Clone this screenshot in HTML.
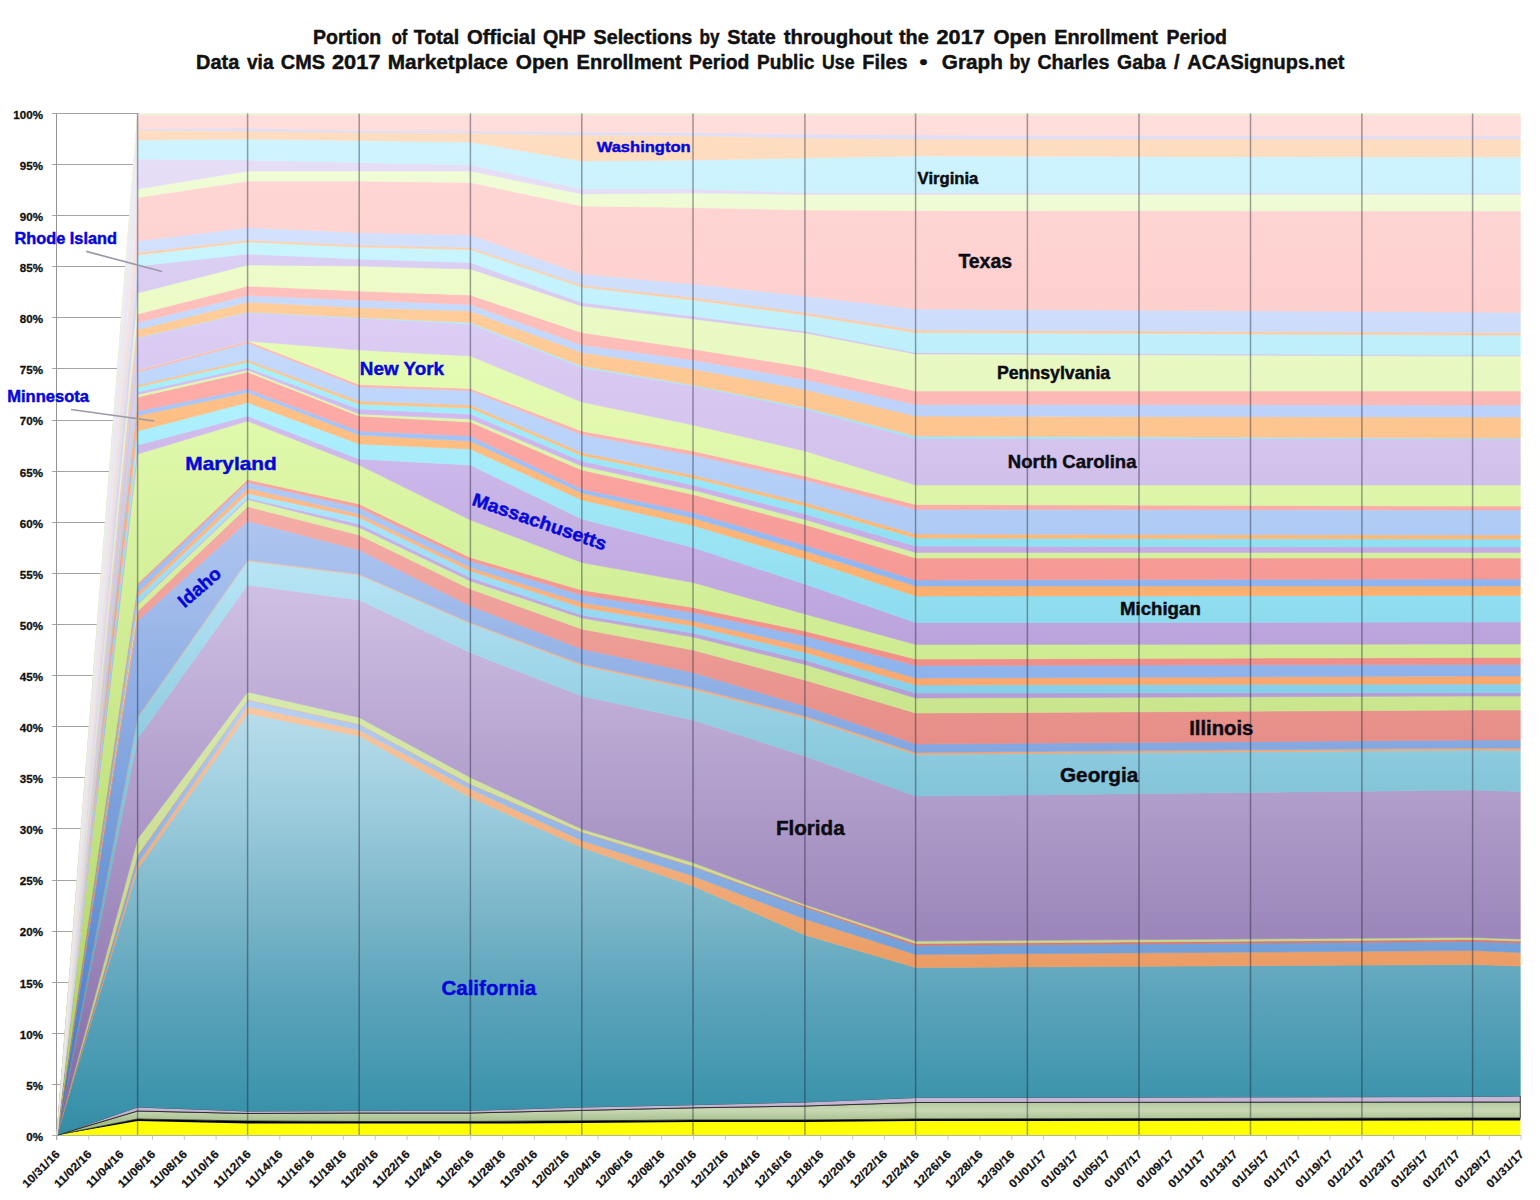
<!DOCTYPE html>
<html><head><meta charset="utf-8"><title>QHP Selections by State</title>
<style>html,body{margin:0;padding:0;background:#fff;}body{width:1540px;height:1200px;overflow:hidden;font-family:"Liberation Sans",sans-serif;}svg{display:block;}text{font-family:"Liberation Sans",sans-serif;font-weight:bold;}</style>
</head><body>
<svg width="1540" height="1200" viewBox="0 0 1540 1200">
<defs>
<linearGradient id="gAL" gradientUnits="userSpaceOnUse" x1="0" y1="0" x2="0" y2="1200">
<stop offset="0.0000" stop-color="#FFFF00"/>
<stop offset="1.0000" stop-color="#FFFF00"/>
</linearGradient>
<linearGradient id="gAK" gradientUnits="userSpaceOnUse" x1="0" y1="0" x2="0" y2="1200">
<stop offset="0.0000" stop-color="#000000"/>
<stop offset="1.0000" stop-color="#000000"/>
</linearGradient>
<linearGradient id="gAZ" gradientUnits="userSpaceOnUse" x1="0" y1="1096" x2="0" y2="1122">
<stop offset="0.0000" stop-color="#A4BE8C"/>
<stop offset="0.5385" stop-color="#C8D8B4"/>
<stop offset="1.0000" stop-color="#A4BE8C"/>
</linearGradient>
<linearGradient id="gAR" gradientUnits="userSpaceOnUse" x1="0" y1="1090" x2="0" y2="1135">
<stop offset="0.0000" stop-color="#C8B8D8"/>
<stop offset="1.0000" stop-color="#C0B0D0"/>
</linearGradient>
<linearGradient id="gCA" gradientUnits="userSpaceOnUse" x1="0" y1="711" x2="0" y2="1135">
<stop offset="0.0000" stop-color="#B8DDEB"/>
<stop offset="0.2099" stop-color="#9FCEDF"/>
<stop offset="0.4458" stop-color="#7FB8CB"/>
<stop offset="0.6816" stop-color="#5AA3BA"/>
<stop offset="0.9175" stop-color="#3C94AC"/>
<stop offset="1.0000" stop-color="#348CA4"/>
</linearGradient>
<linearGradient id="gCO" gradientUnits="userSpaceOnUse" x1="0" y1="706.5" x2="0" y2="1135">
<stop offset="0.0000" stop-color="#F8C7A1"/>
<stop offset="1.0000" stop-color="#E4813D"/>
</linearGradient>
<linearGradient id="gCT" gradientUnits="userSpaceOnUse" x1="0" y1="700" x2="0" y2="1135">
<stop offset="0.0000" stop-color="#B8D0F2"/>
<stop offset="1.0000" stop-color="#407BC5"/>
</linearGradient>
<linearGradient id="gDE" gradientUnits="userSpaceOnUse" x1="0" y1="699.5" x2="0" y2="1135">
<stop offset="0.0000" stop-color="#EEAAA2"/>
<stop offset="1.0000" stop-color="#C65048"/>
</linearGradient>
<linearGradient id="gDC" gradientUnits="userSpaceOnUse" x1="0" y1="694" x2="0" y2="1135">
<stop offset="0.0000" stop-color="#D6EAAC"/>
<stop offset="0.5578" stop-color="#C8D888"/>
<stop offset="1.0000" stop-color="#B0C870"/>
</linearGradient>
<linearGradient id="gFL" gradientUnits="userSpaceOnUse" x1="0" y1="585" x2="0" y2="1135">
<stop offset="0.0000" stop-color="#CFC0E4"/>
<stop offset="1.0000" stop-color="#7F66A3"/>
</linearGradient>
<linearGradient id="gGA" gradientUnits="userSpaceOnUse" x1="0" y1="561" x2="0" y2="1135">
<stop offset="0.0000" stop-color="#B8E5F6"/>
<stop offset="1.0000" stop-color="#3595B0"/>
</linearGradient>
<linearGradient id="gHI" gradientUnits="userSpaceOnUse" x1="0" y1="560" x2="0" y2="1135">
<stop offset="0.0000" stop-color="#F7BF99"/>
<stop offset="1.0000" stop-color="#E37935"/>
</linearGradient>
<linearGradient id="gID" gradientUnits="userSpaceOnUse" x1="0" y1="521" x2="0" y2="1135">
<stop offset="0.0000" stop-color="#AFC5F0"/>
<stop offset="1.0000" stop-color="#3D75C5"/>
</linearGradient>
<linearGradient id="gIL" gradientUnits="userSpaceOnUse" x1="0" y1="506.5" x2="0" y2="1135">
<stop offset="0.0000" stop-color="#F5AEA8"/>
<stop offset="1.0000" stop-color="#CF5852"/>
</linearGradient>
<linearGradient id="gIN" gradientUnits="userSpaceOnUse" x1="0" y1="499.5" x2="0" y2="1135">
<stop offset="0.0000" stop-color="#DDF4A9"/>
<stop offset="1.0000" stop-color="#A4C954"/>
</linearGradient>
<linearGradient id="gIA" gradientUnits="userSpaceOnUse" x1="0" y1="498" x2="0" y2="1135">
<stop offset="0.0000" stop-color="#CCB7E8"/>
<stop offset="1.0000" stop-color="#8062AA"/>
</linearGradient>
<linearGradient id="gKS" gradientUnits="userSpaceOnUse" x1="0" y1="493.5" x2="0" y2="1135">
<stop offset="0.0000" stop-color="#AEE7FE"/>
<stop offset="1.0000" stop-color="#319BBC"/>
</linearGradient>
<linearGradient id="gKY" gradientUnits="userSpaceOnUse" x1="0" y1="488" x2="0" y2="1135">
<stop offset="0.0000" stop-color="#FEBC8C"/>
<stop offset="1.0000" stop-color="#EB792D"/>
</linearGradient>
<linearGradient id="gLA" gradientUnits="userSpaceOnUse" x1="0" y1="482.5" x2="0" y2="1135">
<stop offset="0.0000" stop-color="#AECAF8"/>
<stop offset="1.0000" stop-color="#427DCF"/>
</linearGradient>
<linearGradient id="gME" gradientUnits="userSpaceOnUse" x1="0" y1="479.5" x2="0" y2="1135">
<stop offset="0.0000" stop-color="#FAA69E"/>
<stop offset="1.0000" stop-color="#D6554D"/>
</linearGradient>
<linearGradient id="gMD" gradientUnits="userSpaceOnUse" x1="0" y1="421" x2="0" y2="1135">
<stop offset="0.0000" stop-color="#E0F9AC"/>
<stop offset="1.0000" stop-color="#AAD05B"/>
</linearGradient>
<linearGradient id="gMA" gradientUnits="userSpaceOnUse" x1="0" y1="416" x2="0" y2="1135">
<stop offset="0.0000" stop-color="#D1BDEE"/>
<stop offset="1.0000" stop-color="#896CB3"/>
</linearGradient>
<linearGradient id="gMI" gradientUnits="userSpaceOnUse" x1="0" y1="402.5" x2="0" y2="1135">
<stop offset="0.0000" stop-color="#B0F1FF"/>
<stop offset="1.0000" stop-color="#3AA9C6"/>
</linearGradient>
<linearGradient id="gMN" gradientUnits="userSpaceOnUse" x1="0" y1="392.5" x2="0" y2="1135">
<stop offset="0.0000" stop-color="#FFC188"/>
<stop offset="1.0000" stop-color="#F2822E"/>
</linearGradient>
<linearGradient id="gMS" gradientUnits="userSpaceOnUse" x1="0" y1="389" x2="0" y2="1135">
<stop offset="0.0000" stop-color="#A9C8FA"/>
<stop offset="1.0000" stop-color="#437FD4"/>
</linearGradient>
<linearGradient id="gMO" gradientUnits="userSpaceOnUse" x1="0" y1="372" x2="0" y2="1135">
<stop offset="0.0000" stop-color="#FFAEAA"/>
<stop offset="1.0000" stop-color="#DF615D"/>
</linearGradient>
<linearGradient id="gMT" gradientUnits="userSpaceOnUse" x1="0" y1="370" x2="0" y2="1135">
<stop offset="0.0000" stop-color="#E1F9B2"/>
<stop offset="1.0000" stop-color="#AED366"/>
</linearGradient>
<linearGradient id="gNE" gradientUnits="userSpaceOnUse" x1="0" y1="367.5" x2="0" y2="1135">
<stop offset="0.0000" stop-color="#D5BEF2"/>
<stop offset="1.0000" stop-color="#9172BB"/>
</linearGradient>
<linearGradient id="gNV" gradientUnits="userSpaceOnUse" x1="0" y1="362" x2="0" y2="1135">
<stop offset="0.0000" stop-color="#AAF0FF"/>
<stop offset="1.0000" stop-color="#3BACCA"/>
</linearGradient>
<linearGradient id="gNH" gradientUnits="userSpaceOnUse" x1="0" y1="360" x2="0" y2="1135">
<stop offset="0.0000" stop-color="#FFC68B"/>
<stop offset="1.0000" stop-color="#F28A36"/>
</linearGradient>
<linearGradient id="gNJ" gradientUnits="userSpaceOnUse" x1="0" y1="343" x2="0" y2="1135">
<stop offset="0.0000" stop-color="#C4DAFD"/>
<stop offset="1.0000" stop-color="#6A9BDB"/>
</linearGradient>
<linearGradient id="gNM" gradientUnits="userSpaceOnUse" x1="0" y1="341" x2="0" y2="1135">
<stop offset="0.0000" stop-color="#FFBBB6"/>
<stop offset="1.0000" stop-color="#E77873"/>
</linearGradient>
<linearGradient id="gNY" gradientUnits="userSpaceOnUse" x1="0" y1="341" x2="0" y2="1135">
<stop offset="0.0000" stop-color="#E6FCB5"/>
<stop offset="1.0000" stop-color="#B9DA72"/>
</linearGradient>
<linearGradient id="gNC" gradientUnits="userSpaceOnUse" x1="0" y1="312.5" x2="0" y2="1135">
<stop offset="0.0000" stop-color="#DDCEF5"/>
<stop offset="1.0000" stop-color="#A18BC4"/>
</linearGradient>
<linearGradient id="gND" gradientUnits="userSpaceOnUse" x1="0" y1="312" x2="0" y2="1135">
<stop offset="0.0000" stop-color="#AFEEFF"/>
<stop offset="1.0000" stop-color="#4DB2CC"/>
</linearGradient>
<linearGradient id="gOH" gradientUnits="userSpaceOnUse" x1="0" y1="302" x2="0" y2="1135">
<stop offset="0.0000" stop-color="#FFCD9B"/>
<stop offset="1.0000" stop-color="#F29850"/>
</linearGradient>
<linearGradient id="gOK" gradientUnits="userSpaceOnUse" x1="0" y1="295.5" x2="0" y2="1135">
<stop offset="0.0000" stop-color="#C7DAFE"/>
<stop offset="1.0000" stop-color="#79A2E1"/>
</linearGradient>
<linearGradient id="gOR" gradientUnits="userSpaceOnUse" x1="0" y1="286" x2="0" y2="1135">
<stop offset="0.0000" stop-color="#FFC1BD"/>
<stop offset="1.0000" stop-color="#E88682"/>
</linearGradient>
<linearGradient id="gPA" gradientUnits="userSpaceOnUse" x1="0" y1="265" x2="0" y2="1135">
<stop offset="0.0000" stop-color="#EDFCC9"/>
<stop offset="1.0000" stop-color="#C6DE8F"/>
</linearGradient>
<linearGradient id="gRI" gradientUnits="userSpaceOnUse" x1="0" y1="254" x2="0" y2="1135">
<stop offset="0.0000" stop-color="#DBCFF3"/>
<stop offset="1.0000" stop-color="#A794C9"/>
</linearGradient>
<linearGradient id="gSC" gradientUnits="userSpaceOnUse" x1="0" y1="242" x2="0" y2="1135">
<stop offset="0.0000" stop-color="#C9F5FF"/>
<stop offset="1.0000" stop-color="#74C1D7"/>
</linearGradient>
<linearGradient id="gSD" gradientUnits="userSpaceOnUse" x1="0" y1="240" x2="0" y2="1135">
<stop offset="0.0000" stop-color="#FFD1AC"/>
<stop offset="1.0000" stop-color="#F3A36B"/>
</linearGradient>
<linearGradient id="gTN" gradientUnits="userSpaceOnUse" x1="0" y1="227.5" x2="0" y2="1135">
<stop offset="0.0000" stop-color="#D3E1FD"/>
<stop offset="1.0000" stop-color="#97B7E7"/>
</linearGradient>
<linearGradient id="gTX" gradientUnits="userSpaceOnUse" x1="0" y1="181" x2="0" y2="1135">
<stop offset="0.0000" stop-color="#FFD6D4"/>
<stop offset="1.0000" stop-color="#EDA9A7"/>
</linearGradient>
<linearGradient id="gUT" gradientUnits="userSpaceOnUse" x1="0" y1="171" x2="0" y2="1135">
<stop offset="0.0000" stop-color="#EFFCD6"/>
<stop offset="1.0000" stop-color="#D1E5A9"/>
</linearGradient>
<linearGradient id="gVT" gradientUnits="userSpaceOnUse" x1="0" y1="159" x2="0" y2="1135">
<stop offset="0.0000" stop-color="#E6DEF6"/>
<stop offset="1.0000" stop-color="#BEB1D6"/>
</linearGradient>
<linearGradient id="gVA" gradientUnits="userSpaceOnUse" x1="0" y1="139" x2="0" y2="1135">
<stop offset="0.0000" stop-color="#CFF4FF"/>
<stop offset="1.0000" stop-color="#8ECCDD"/>
</linearGradient>
<linearGradient id="gWA" gradientUnits="userSpaceOnUse" x1="0" y1="130" x2="0" y2="1135">
<stop offset="0.0000" stop-color="#FFDDC1"/>
<stop offset="1.0000" stop-color="#F5BA8F"/>
</linearGradient>
<linearGradient id="gWV" gradientUnits="userSpaceOnUse" x1="0" y1="128" x2="0" y2="1135">
<stop offset="0.0000" stop-color="#E0DFF5"/>
<stop offset="1.0000" stop-color="#B0BDE3"/>
</linearGradient>
<linearGradient id="gWI" gradientUnits="userSpaceOnUse" x1="0" y1="114.8" x2="0" y2="1135">
<stop offset="0.0000" stop-color="#FFDEDB"/>
<stop offset="1.0000" stop-color="#EFBAB7"/>
</linearGradient>
<linearGradient id="gWY" gradientUnits="userSpaceOnUse" x1="0" y1="113.5" x2="0" y2="1135">
<stop offset="0.0000" stop-color="#EAF5D5"/>
<stop offset="1.0000" stop-color="#D2E3B1"/>
</linearGradient>
<linearGradient id="fanw" gradientUnits="userSpaceOnUse" x1="97" y1="624" x2="121" y2="625.9"><stop offset="0" stop-color="#F0EEF3" stop-opacity="0.9"/><stop offset="0.3" stop-color="#F0EEF3" stop-opacity="0.6"/><stop offset="0.7" stop-color="#F0EEF3" stop-opacity="0.1"/><stop offset="1" stop-color="#F0EEF3" stop-opacity="0"/></linearGradient>
</defs>
<rect width="1540" height="1200" fill="#fff"/>
<line x1="52" y1="1135.5" x2="140" y2="1135.5" stroke="#8e8e8e" stroke-width="0.8"/>
<line x1="52" y1="1084.5" x2="140" y2="1084.5" stroke="#8e8e8e" stroke-width="0.8"/>
<line x1="52" y1="1033.5" x2="140" y2="1033.5" stroke="#8e8e8e" stroke-width="0.8"/>
<line x1="52" y1="982.5" x2="140" y2="982.5" stroke="#8e8e8e" stroke-width="0.8"/>
<line x1="52" y1="931.5" x2="140" y2="931.5" stroke="#8e8e8e" stroke-width="0.8"/>
<line x1="52" y1="880.5" x2="140" y2="880.5" stroke="#8e8e8e" stroke-width="0.8"/>
<line x1="52" y1="828.5" x2="140" y2="828.5" stroke="#8e8e8e" stroke-width="0.8"/>
<line x1="52" y1="777.5" x2="140" y2="777.5" stroke="#8e8e8e" stroke-width="0.8"/>
<line x1="52" y1="726.5" x2="140" y2="726.5" stroke="#8e8e8e" stroke-width="0.8"/>
<line x1="52" y1="675.5" x2="140" y2="675.5" stroke="#8e8e8e" stroke-width="0.8"/>
<line x1="52" y1="624.5" x2="140" y2="624.5" stroke="#8e8e8e" stroke-width="0.8"/>
<line x1="52" y1="573.5" x2="140" y2="573.5" stroke="#8e8e8e" stroke-width="0.8"/>
<line x1="52" y1="522.5" x2="140" y2="522.5" stroke="#8e8e8e" stroke-width="0.8"/>
<line x1="52" y1="471.5" x2="140" y2="471.5" stroke="#8e8e8e" stroke-width="0.8"/>
<line x1="52" y1="420.5" x2="140" y2="420.5" stroke="#8e8e8e" stroke-width="0.8"/>
<line x1="52" y1="368.5" x2="140" y2="368.5" stroke="#8e8e8e" stroke-width="0.8"/>
<line x1="52" y1="317.5" x2="140" y2="317.5" stroke="#8e8e8e" stroke-width="0.8"/>
<line x1="52" y1="266.5" x2="140" y2="266.5" stroke="#8e8e8e" stroke-width="0.8"/>
<line x1="52" y1="215.5" x2="140" y2="215.5" stroke="#8e8e8e" stroke-width="0.8"/>
<line x1="52" y1="164.5" x2="140" y2="164.5" stroke="#8e8e8e" stroke-width="0.8"/>
<line x1="52" y1="113.5" x2="140" y2="113.5" stroke="#8e8e8e" stroke-width="0.8"/>
<line x1="56.5" y1="114" x2="56.5" y2="1140" stroke="#959595" stroke-width="1"/>
<line x1="52" y1="1135.5" x2="1521" y2="1135.5" stroke="#b4b4a8" stroke-width="1"/>
<polygon points="57.0,1135.0 137.6,1121.0 247.6,1123.5 359.2,1123.6 470.4,1123.6 581.8,1123.0 693.0,1122.0 804.9,1122.0 915.6,1121.0 1472.6,1120.5 1520.3,1120.5 1520.3,1135.0 1472.6,1135.0 915.6,1135.0 804.9,1135.0 693.0,1135.0 581.8,1135.0 470.4,1135.0 359.2,1135.0 247.6,1135.0 137.6,1135.0" fill="url(#gAL)"/>
<polygon points="57.0,1135.0 137.6,1119.0 247.6,1121.0 359.2,1121.5 470.4,1121.5 581.8,1120.8 693.0,1120.0 804.9,1120.0 915.6,1119.0 1472.6,1118.0 1520.3,1118.0 1520.3,1120.5 1472.6,1120.5 915.6,1121.0 804.9,1122.0 693.0,1122.0 581.8,1123.0 470.4,1123.6 359.2,1123.6 247.6,1123.5 137.6,1121.0" fill="url(#gAK)"/>
<polygon points="57.0,1135.0 137.6,1111.0 247.6,1113.5 359.2,1113.0 470.4,1113.0 581.8,1110.4 693.0,1107.8 804.9,1106.0 915.6,1102.5 1472.6,1102.0 1520.3,1102.0 1520.3,1118.0 1472.6,1118.0 915.6,1119.0 804.9,1120.0 693.0,1120.0 581.8,1120.8 470.4,1121.5 359.2,1121.5 247.6,1121.0 137.6,1119.0" fill="url(#gAZ)" stroke="#1a1a1a" stroke-width="0.8" stroke-linejoin="round"/>
<polygon points="57.0,1135.0 137.6,1107.0 247.6,1111.0 359.2,1110.6 470.4,1110.4 581.8,1107.0 693.0,1104.7 804.9,1102.0 915.6,1097.5 1472.6,1096.5 1520.3,1096.0 1520.3,1102.0 1472.6,1102.0 915.6,1102.5 804.9,1106.0 693.0,1107.8 581.8,1110.4 470.4,1113.0 359.2,1113.0 247.6,1113.5 137.6,1111.0" fill="url(#gAR)" stroke="#1a1a1a" stroke-width="0.8" stroke-linejoin="round"/>
<polygon points="57.0,1135.0 137.6,869.0 247.6,713.5 359.2,736.0 470.4,797.5 581.8,847.5 693.0,886.0 804.9,935.0 915.6,967.5 1472.6,964.5 1520.3,966.0 1520.3,1096.0 1472.6,1096.5 915.6,1097.5 804.9,1102.0 693.0,1104.7 581.8,1107.0 470.4,1110.4 359.2,1110.6 247.6,1111.0 137.6,1107.0" fill="url(#gCA)" stroke="url(#gCA)" stroke-width="0.6"/>
<polygon points="57.0,1135.0 137.6,863.5 247.6,706.5 359.2,730.0 470.4,789.0 581.8,840.5 693.0,876.0 804.9,919.0 915.6,954.5 1472.6,950.5 1520.3,952.5 1520.3,966.0 1472.6,964.5 915.6,967.5 804.9,935.0 693.0,886.0 581.8,847.5 470.4,797.5 359.2,736.0 247.6,713.5 137.6,869.0" fill="url(#gCO)" stroke="url(#gCO)" stroke-width="0.6"/>
<polygon points="57.0,1135.0 137.6,856.0 247.6,700.0 359.2,724.5 470.4,784.5 581.8,832.5 693.0,866.5 804.9,907.5 915.6,945.5 1472.6,941.5 1520.3,943.0 1520.3,952.5 1472.6,950.5 915.6,954.5 804.9,919.0 693.0,876.0 581.8,840.5 470.4,789.0 359.2,730.0 247.6,706.5 137.6,863.5" fill="url(#gCT)" stroke="url(#gCT)" stroke-width="0.6"/>
<polygon points="57.0,1135.0 137.6,855.0 247.6,699.5 359.2,724.0 470.4,784.0 581.8,832.0 693.0,866.0 804.9,906.0 915.6,943.5 1472.6,939.5 1520.3,941.0 1520.3,943.0 1472.6,941.5 915.6,945.5 804.9,907.5 693.0,866.5 581.8,832.5 470.4,784.5 359.2,724.5 247.6,700.0 137.6,856.0" fill="url(#gDE)" stroke="url(#gDE)" stroke-width="0.6"/>
<polygon points="57.0,1135.0 137.6,839.0 247.6,692.0 359.2,717.5 470.4,777.5 581.8,829.0 693.0,862.5 804.9,904.5 915.6,941.0 1472.6,937.5 1520.3,939.0 1520.3,941.0 1472.6,939.5 915.6,943.5 804.9,906.0 693.0,866.0 581.8,832.0 470.4,784.0 359.2,724.0 247.6,699.5 137.6,855.0" fill="url(#gDC)" stroke="url(#gDC)" stroke-width="0.6"/>
<polygon points="57.0,1135.0 137.6,738.5 247.6,585.0 359.2,600.0 470.4,652.5 581.8,696.0 693.0,720.0 804.9,756.0 915.6,796.0 1472.6,790.0 1520.3,791.5 1520.3,939.0 1472.6,937.5 915.6,941.0 804.9,904.5 693.0,862.5 581.8,829.0 470.4,777.5 359.2,717.5 247.6,692.0 137.6,839.0" fill="url(#gFL)" stroke="url(#gFL)" stroke-width="0.6"/>
<polygon points="57.0,1135.0 137.6,718.0 247.6,561.0 359.2,575.0 470.4,623.5 581.8,665.5 693.0,689.5 804.9,718.0 915.6,754.5 1472.6,750.0 1520.3,750.5 1520.3,791.5 1472.6,790.0 915.6,796.0 804.9,756.0 693.0,720.0 581.8,696.0 470.4,652.5 359.2,600.0 247.6,585.0 137.6,738.5" fill="url(#gGA)" stroke="url(#gGA)" stroke-width="0.6"/>
<polygon points="57.0,1135.0 137.6,717.0 247.6,560.0 359.2,574.0 470.4,622.5 581.8,664.0 693.0,687.5 804.9,716.0 915.6,752.5 1472.6,748.0 1520.3,748.0 1520.3,750.5 1472.6,750.0 915.6,754.5 804.9,718.0 693.0,689.5 581.8,665.5 470.4,623.5 359.2,575.0 247.6,561.0 137.6,718.0" fill="url(#gHI)" stroke="url(#gHI)" stroke-width="0.6"/>
<polygon points="57.0,1135.0 137.6,620.7 247.6,521.0 359.2,550.0 470.4,606.0 581.8,649.0 693.0,672.5 804.9,706.0 915.6,744.0 1472.6,740.0 1520.3,740.0 1520.3,748.0 1472.6,748.0 915.6,752.5 804.9,716.0 693.0,687.5 581.8,664.0 470.4,622.5 359.2,574.0 247.6,560.0 137.6,717.0" fill="url(#gID)" stroke="url(#gID)" stroke-width="0.6"/>
<polygon points="57.0,1135.0 137.6,611.3 247.6,506.5 359.2,535.0 470.4,589.0 581.8,629.0 693.0,650.0 804.9,680.0 915.6,713.0 1472.6,710.0 1520.3,710.0 1520.3,740.0 1472.6,740.0 915.6,744.0 804.9,706.0 693.0,672.5 581.8,649.0 470.4,606.0 359.2,550.0 247.6,521.0 137.6,620.7" fill="url(#gIL)" stroke="url(#gIL)" stroke-width="0.6"/>
<polygon points="57.0,1135.0 137.6,604.3 247.6,499.5 359.2,527.5 470.4,581.0 581.8,618.0 693.0,637.0 804.9,664.5 915.6,698.0 1472.6,696.0 1520.3,696.0 1520.3,710.0 1472.6,710.0 915.6,713.0 804.9,680.0 693.0,650.0 581.8,629.0 470.4,589.0 359.2,535.0 247.6,506.5 137.6,611.3" fill="url(#gIN)" stroke="url(#gIN)" stroke-width="0.6"/>
<polygon points="57.0,1135.0 137.6,603.3 247.6,498.0 359.2,524.0 470.4,577.5 581.8,615.0 693.0,633.0 804.9,660.0 915.6,693.0 1472.6,692.5 1520.3,692.5 1520.3,696.0 1472.6,696.0 915.6,698.0 804.9,664.5 693.0,637.0 581.8,618.0 470.4,581.0 359.2,527.5 247.6,499.5 137.6,604.3" fill="url(#gIA)" stroke="url(#gIA)" stroke-width="0.6"/>
<polygon points="57.0,1135.0 137.6,596.7 247.6,493.5 359.2,517.5 470.4,571.0 581.8,607.5 693.0,626.0 804.9,652.5 915.6,685.0 1472.6,684.0 1520.3,684.0 1520.3,692.5 1472.6,692.5 915.6,693.0 804.9,660.0 693.0,633.0 581.8,615.0 470.4,577.5 359.2,524.0 247.6,498.0 137.6,603.3" fill="url(#gKS)" stroke="url(#gKS)" stroke-width="0.6"/>
<polygon points="57.0,1135.0 137.6,592.7 247.6,488.0 359.2,514.0 470.4,567.5 581.8,602.5 693.0,621.0 804.9,646.0 915.6,678.0 1472.6,676.0 1520.3,676.0 1520.3,684.0 1472.6,684.0 915.6,685.0 804.9,652.5 693.0,626.0 581.8,607.5 470.4,571.0 359.2,517.5 247.6,493.5 137.6,596.7" fill="url(#gKY)" stroke="url(#gKY)" stroke-width="0.6"/>
<polygon points="57.0,1135.0 137.6,585.5 247.6,482.5 359.2,507.5 470.4,561.0 581.8,595.0 693.0,612.5 804.9,636.0 915.6,665.5 1472.6,664.5 1520.3,664.5 1520.3,676.0 1472.6,676.0 915.6,678.0 804.9,646.0 693.0,621.0 581.8,602.5 470.4,567.5 359.2,514.0 247.6,488.0 137.6,592.7" fill="url(#gLA)" stroke="url(#gLA)" stroke-width="0.6"/>
<polygon points="57.0,1135.0 137.6,583.5 247.6,479.5 359.2,504.0 470.4,557.5 581.8,590.0 693.0,607.5 804.9,631.0 915.6,659.0 1472.6,657.5 1520.3,657.5 1520.3,664.5 1472.6,664.5 915.6,665.5 804.9,636.0 693.0,612.5 581.8,595.0 470.4,561.0 359.2,507.5 247.6,482.5 137.6,585.5" fill="url(#gME)" stroke="url(#gME)" stroke-width="0.6"/>
<polygon points="57.0,1135.0 137.6,454.0 247.6,421.0 359.2,465.0 470.4,520.0 581.8,562.5 693.0,582.5 804.9,614.0 915.6,644.5 1472.6,644.0 1520.3,644.0 1520.3,657.5 1472.6,657.5 915.6,659.0 804.9,631.0 693.0,607.5 581.8,590.0 470.4,557.5 359.2,504.0 247.6,479.5 137.6,583.5" fill="url(#gMD)" stroke="url(#gMD)" stroke-width="0.6"/>
<polygon points="57.0,1135.0 137.6,445.0 247.6,416.0 359.2,459.0 470.4,465.0 581.8,519.0 693.0,547.5 804.9,584.0 915.6,622.5 1472.6,622.0 1520.3,622.0 1520.3,644.0 1472.6,644.0 915.6,644.5 804.9,614.0 693.0,582.5 581.8,562.5 470.4,520.0 359.2,465.0 247.6,421.0 137.6,454.0" fill="url(#gMA)" stroke="url(#gMA)" stroke-width="0.6"/>
<polygon points="57.0,1135.0 137.6,431.0 247.6,402.5 359.2,444.0 470.4,449.0 581.8,500.0 693.0,525.5 804.9,559.0 915.6,596.0 1472.6,595.5 1520.3,595.5 1520.3,622.0 1472.6,622.0 915.6,622.5 804.9,584.0 693.0,547.5 581.8,519.0 470.4,465.0 359.2,459.0 247.6,416.0 137.6,445.0" fill="url(#gMI)" stroke="url(#gMI)" stroke-width="0.6"/>
<polygon points="57.0,1135.0 137.6,415.5 247.6,392.5 359.2,435.0 470.4,441.0 581.8,493.0 693.0,518.0 804.9,551.0 915.6,586.0 1472.6,586.0 1520.3,586.0 1520.3,595.5 1472.6,595.5 915.6,596.0 804.9,559.0 693.0,525.5 581.8,500.0 470.4,449.0 359.2,444.0 247.6,402.5 137.6,431.0" fill="url(#gMN)" stroke="url(#gMN)" stroke-width="0.6"/>
<polygon points="57.0,1135.0 137.6,411.0 247.6,389.0 359.2,431.0 470.4,436.0 581.8,489.0 693.0,512.5 804.9,545.0 915.6,580.0 1472.6,579.0 1520.3,579.0 1520.3,586.0 1472.6,586.0 915.6,586.0 804.9,551.0 693.0,518.0 581.8,493.0 470.4,441.0 359.2,435.0 247.6,392.5 137.6,415.5" fill="url(#gMS)" stroke="url(#gMS)" stroke-width="0.6"/>
<polygon points="57.0,1135.0 137.6,397.0 247.6,372.0 359.2,416.0 470.4,422.0 581.8,470.0 693.0,494.5 804.9,524.5 915.6,558.0 1472.6,558.0 1520.3,558.0 1520.3,579.0 1472.6,579.0 915.6,580.0 804.9,545.0 693.0,512.5 581.8,489.0 470.4,436.0 359.2,431.0 247.6,389.0 137.6,411.0" fill="url(#gMO)" stroke="url(#gMO)" stroke-width="0.6"/>
<polygon points="57.0,1135.0 137.6,394.5 247.6,370.0 359.2,414.0 470.4,419.0 581.8,466.0 693.0,490.0 804.9,519.5 915.6,552.5 1472.6,552.5 1520.3,552.5 1520.3,558.0 1472.6,558.0 915.6,558.0 804.9,524.5 693.0,494.5 581.8,470.0 470.4,422.0 359.2,416.0 247.6,372.0 137.6,397.0" fill="url(#gMT)" stroke="url(#gMT)" stroke-width="0.6"/>
<polygon points="57.0,1135.0 137.6,392.0 247.6,367.5 359.2,409.0 470.4,414.0 581.8,461.0 693.0,485.0 804.9,514.0 915.6,546.0 1472.6,547.0 1520.3,547.0 1520.3,552.5 1472.6,552.5 915.6,552.5 804.9,519.5 693.0,490.0 581.8,466.0 470.4,419.0 359.2,414.0 247.6,370.0 137.6,394.5" fill="url(#gNE)" stroke="url(#gNE)" stroke-width="0.6"/>
<polygon points="57.0,1135.0 137.6,387.0 247.6,362.0 359.2,404.0 470.4,408.0 581.8,455.5 693.0,478.0 804.9,506.0 915.6,538.0 1472.6,539.0 1520.3,539.0 1520.3,547.0 1472.6,547.0 915.6,546.0 804.9,514.0 693.0,485.0 581.8,461.0 470.4,414.0 359.2,409.0 247.6,367.5 137.6,392.0" fill="url(#gNV)" stroke="url(#gNV)" stroke-width="0.6"/>
<polygon points="57.0,1135.0 137.6,385.0 247.6,360.0 359.2,401.0 470.4,405.0 581.8,452.5 693.0,475.0 804.9,502.5 915.6,534.0 1472.6,535.0 1520.3,535.0 1520.3,539.0 1472.6,539.0 915.6,538.0 804.9,506.0 693.0,478.0 581.8,455.5 470.4,408.0 359.2,404.0 247.6,362.0 137.6,387.0" fill="url(#gNH)" stroke="url(#gNH)" stroke-width="0.6"/>
<polygon points="57.0,1135.0 137.6,372.0 247.6,343.0 359.2,387.0 470.4,390.5 581.8,434.5 693.0,455.0 804.9,480.0 915.6,509.5 1472.6,510.0 1520.3,510.0 1520.3,535.0 1472.6,535.0 915.6,534.0 804.9,502.5 693.0,475.0 581.8,452.5 470.4,405.0 359.2,401.0 247.6,360.0 137.6,385.0" fill="url(#gNJ)" stroke="url(#gNJ)" stroke-width="0.6"/>
<polygon points="57.0,1135.0 137.6,370.0 247.6,341.0 359.2,384.5 470.4,388.5 581.8,431.0 693.0,451.0 804.9,476.0 915.6,504.5 1472.6,506.0 1520.3,506.0 1520.3,510.0 1472.6,510.0 915.6,509.5 804.9,480.0 693.0,455.0 581.8,434.5 470.4,390.5 359.2,387.0 247.6,343.0 137.6,372.0" fill="url(#gNM)" stroke="url(#gNM)" stroke-width="0.6"/>
<polygon points="57.0,1135.0 137.6,370.0 247.6,341.0 359.2,350.0 470.4,356.0 581.8,402.0 693.0,425.0 804.9,451.0 915.6,485.0 1472.6,485.0 1520.3,485.0 1520.3,506.0 1472.6,506.0 915.6,504.5 804.9,476.0 693.0,451.0 581.8,431.0 470.4,388.5 359.2,384.5 247.6,341.0 137.6,370.0" fill="url(#gNY)" stroke="url(#gNY)" stroke-width="0.6"/>
<polygon points="57.0,1135.0 137.6,338.0 247.6,312.5 359.2,318.0 470.4,324.0 581.8,367.5 693.0,386.0 804.9,409.0 915.6,438.5 1472.6,439.0 1520.3,439.0 1520.3,485.0 1472.6,485.0 915.6,485.0 804.9,451.0 693.0,425.0 581.8,402.0 470.4,356.0 359.2,350.0 247.6,341.0 137.6,370.0" fill="url(#gNC)" stroke="url(#gNC)" stroke-width="0.6"/>
<polygon points="57.0,1135.0 137.6,337.5 247.6,312.0 359.2,317.5 470.4,322.5 581.8,366.0 693.0,385.0 804.9,407.5 915.6,436.0 1472.6,438.0 1520.3,438.0 1520.3,439.0 1472.6,439.0 915.6,438.5 804.9,409.0 693.0,386.0 581.8,367.5 470.4,324.0 359.2,318.0 247.6,312.5 137.6,338.0" fill="url(#gND)" stroke="url(#gND)" stroke-width="0.6"/>
<polygon points="57.0,1135.0 137.6,329.5 247.6,302.0 359.2,307.5 470.4,311.0 581.8,352.5 693.0,369.0 804.9,389.5 915.6,416.0 1472.6,417.0 1520.3,417.0 1520.3,438.0 1472.6,438.0 915.6,436.0 804.9,407.5 693.0,385.0 581.8,366.0 470.4,322.5 359.2,317.5 247.6,312.0 137.6,337.5" fill="url(#gOH)" stroke="url(#gOH)" stroke-width="0.6"/>
<polygon points="57.0,1135.0 137.6,322.5 247.6,295.5 359.2,300.0 470.4,304.5 581.8,345.0 693.0,360.0 804.9,379.5 915.6,404.5 1472.6,405.0 1520.3,405.0 1520.3,417.0 1472.6,417.0 915.6,416.0 804.9,389.5 693.0,369.0 581.8,352.5 470.4,311.0 359.2,307.5 247.6,302.0 137.6,329.5" fill="url(#gOK)" stroke="url(#gOK)" stroke-width="0.6"/>
<polygon points="57.0,1135.0 137.6,314.0 247.6,286.0 359.2,291.0 470.4,295.0 581.8,332.5 693.0,349.0 804.9,367.0 915.6,391.0 1472.6,391.0 1520.3,391.0 1520.3,405.0 1472.6,405.0 915.6,404.5 804.9,379.5 693.0,360.0 581.8,345.0 470.4,304.5 359.2,300.0 247.6,295.5 137.6,322.5" fill="url(#gOR)" stroke="url(#gOR)" stroke-width="0.6"/>
<polygon points="57.0,1135.0 137.6,293.0 247.6,265.0 359.2,266.0 470.4,269.0 581.8,306.0 693.0,319.0 804.9,333.0 915.6,354.0 1472.6,356.0 1520.3,356.0 1520.3,391.0 1472.6,391.0 915.6,391.0 804.9,367.0 693.0,349.0 581.8,332.5 470.4,295.0 359.2,291.0 247.6,286.0 137.6,314.0" fill="url(#gPA)" stroke="url(#gPA)" stroke-width="0.6"/>
<polygon points="57.0,1135.0 137.6,266.0 247.6,254.0 359.2,259.0 470.4,262.5 581.8,302.5 693.0,316.0 804.9,331.0 915.6,352.5 1472.6,355.0 1520.3,355.0 1520.3,356.0 1472.6,356.0 915.6,354.0 804.9,333.0 693.0,319.0 581.8,306.0 470.4,269.0 359.2,266.0 247.6,265.0 137.6,293.0" fill="url(#gRI)" stroke="url(#gRI)" stroke-width="0.6"/>
<polygon points="57.0,1135.0 137.6,255.0 247.6,242.0 359.2,247.0 470.4,249.5 581.8,287.0 693.0,300.0 804.9,315.0 915.6,332.5 1472.6,335.0 1520.3,335.0 1520.3,355.0 1472.6,355.0 915.6,352.5 804.9,331.0 693.0,316.0 581.8,302.5 470.4,262.5 359.2,259.0 247.6,254.0 137.6,266.0" fill="url(#gSC)" stroke="url(#gSC)" stroke-width="0.6"/>
<polygon points="57.0,1135.0 137.6,252.5 247.6,240.0 359.2,245.0 470.4,247.5 581.8,285.0 693.0,297.5 804.9,312.5 915.6,330.0 1472.6,332.5 1520.3,332.5 1520.3,335.0 1472.6,335.0 915.6,332.5 804.9,315.0 693.0,300.0 581.8,287.0 470.4,249.5 359.2,247.0 247.6,242.0 137.6,255.0" fill="url(#gSD)" stroke="url(#gSD)" stroke-width="0.6"/>
<polygon points="57.0,1135.0 137.6,241.0 247.6,227.5 359.2,232.5 470.4,235.0 581.8,274.0 693.0,284.0 804.9,296.0 915.6,309.0 1472.6,312.0 1520.3,312.5 1520.3,332.5 1472.6,332.5 915.6,330.0 804.9,312.5 693.0,297.5 581.8,285.0 470.4,247.5 359.2,245.0 247.6,240.0 137.6,252.5" fill="url(#gTN)" stroke="url(#gTN)" stroke-width="0.6"/>
<polygon points="57.0,1135.0 137.6,197.5 247.6,181.0 359.2,181.0 470.4,182.5 581.8,206.0 693.0,207.5 804.9,210.0 915.6,210.5 1472.6,211.0 1520.3,211.0 1520.3,312.5 1472.6,312.0 915.6,309.0 804.9,296.0 693.0,284.0 581.8,274.0 470.4,235.0 359.2,232.5 247.6,227.5 137.6,241.0" fill="url(#gTX)" stroke="url(#gTX)" stroke-width="0.6"/>
<polygon points="57.0,1135.0 137.6,189.0 247.6,171.0 359.2,171.0 470.4,171.0 581.8,194.0 693.0,193.0 804.9,194.5 915.6,194.5 1472.6,194.5 1520.3,194.5 1520.3,211.0 1472.6,211.0 915.6,210.5 804.9,210.0 693.0,207.5 581.8,206.0 470.4,182.5 359.2,181.0 247.6,181.0 137.6,197.5" fill="url(#gUT)" stroke="url(#gUT)" stroke-width="0.6"/>
<polygon points="57.0,1135.0 137.6,159.0 247.6,160.0 359.2,162.5 470.4,165.0 581.8,189.0 693.0,189.0 804.9,192.5 915.6,192.5 1472.6,193.0 1520.3,193.0 1520.3,194.5 1472.6,194.5 915.6,194.5 804.9,194.5 693.0,193.0 581.8,194.0 470.4,171.0 359.2,171.0 247.6,171.0 137.6,189.0" fill="url(#gVT)" stroke="url(#gVT)" stroke-width="0.6"/>
<polygon points="57.0,1135.0 137.6,140.0 247.6,139.0 359.2,140.5 470.4,142.0 581.8,161.0 693.0,160.0 804.9,158.0 915.6,156.0 1472.6,157.0 1520.3,157.0 1520.3,193.0 1472.6,193.0 915.6,192.5 804.9,192.5 693.0,189.0 581.8,189.0 470.4,165.0 359.2,162.5 247.6,160.0 137.6,159.0" fill="url(#gVA)" stroke="url(#gVA)" stroke-width="0.6"/>
<polygon points="57.0,1135.0 137.6,130.0 247.6,131.0 359.2,132.5 470.4,133.0 581.8,135.0 693.0,135.5 804.9,138.0 915.6,139.0 1472.6,139.0 1520.3,139.0 1520.3,157.0 1472.6,157.0 915.6,156.0 804.9,158.0 693.0,160.0 581.8,161.0 470.4,142.0 359.2,140.5 247.6,139.0 137.6,140.0" fill="url(#gWA)" stroke="url(#gWA)" stroke-width="0.6"/>
<polygon points="57.0,1135.0 137.6,128.5 247.6,128.0 359.2,130.5 470.4,131.0 581.8,132.0 693.0,132.5 804.9,134.0 915.6,135.0 1472.6,136.0 1520.3,136.0 1520.3,139.0 1472.6,139.0 915.6,139.0 804.9,138.0 693.0,135.5 581.8,135.0 470.4,133.0 359.2,132.5 247.6,131.0 137.6,130.0" fill="url(#gWV)" stroke="url(#gWV)" stroke-width="0.6"/>
<polygon points="57.0,1135.0 137.6,114.8 247.6,114.8 359.2,114.8 470.4,114.8 581.8,114.8 693.0,114.8 804.9,114.8 915.6,114.8 1472.6,114.8 1520.3,114.8 1520.3,136.0 1472.6,136.0 915.6,135.0 804.9,134.0 693.0,132.5 581.8,132.0 470.4,131.0 359.2,130.5 247.6,128.0 137.6,128.5" fill="url(#gWI)" stroke="url(#gWI)" stroke-width="0.6"/>
<polygon points="57.0,1135.0 137.6,113.5 247.6,113.5 359.2,113.5 470.4,113.5 581.8,113.5 693.0,113.5 804.9,113.5 915.6,113.5 1472.6,113.5 1520.3,113.5 1520.3,114.8 1472.6,114.8 915.6,114.8 804.9,114.8 693.0,114.8 581.8,114.8 470.4,114.8 359.2,114.8 247.6,114.8 137.6,114.8" fill="url(#gWY)" stroke="url(#gWY)" stroke-width="0.6"/>
<polygon points="57,1135 137.6,113.5 137.6,470" fill="url(#fanw)"/>
<line x1="137.60" y1="113.5" x2="137.60" y2="1135" stroke="#14182c" stroke-opacity="0.4" stroke-width="1.5"/>
<line x1="247.60" y1="113.5" x2="247.60" y2="1135" stroke="#14182c" stroke-opacity="0.4" stroke-width="1.5"/>
<line x1="359.20" y1="113.5" x2="359.20" y2="1135" stroke="#14182c" stroke-opacity="0.4" stroke-width="1.5"/>
<line x1="470.40" y1="113.5" x2="470.40" y2="1135" stroke="#14182c" stroke-opacity="0.4" stroke-width="1.5"/>
<line x1="581.80" y1="113.5" x2="581.80" y2="1135" stroke="#14182c" stroke-opacity="0.4" stroke-width="1.5"/>
<line x1="693.00" y1="113.5" x2="693.00" y2="1135" stroke="#14182c" stroke-opacity="0.4" stroke-width="1.5"/>
<line x1="804.90" y1="113.5" x2="804.90" y2="1135" stroke="#14182c" stroke-opacity="0.4" stroke-width="1.5"/>
<line x1="915.60" y1="113.5" x2="915.60" y2="1135" stroke="#14182c" stroke-opacity="0.4" stroke-width="1.5"/>
<line x1="1027.40" y1="113.5" x2="1027.40" y2="1135" stroke="#14182c" stroke-opacity="0.4" stroke-width="1.5"/>
<line x1="1139.00" y1="113.5" x2="1139.00" y2="1135" stroke="#14182c" stroke-opacity="0.4" stroke-width="1.5"/>
<line x1="1250.50" y1="113.5" x2="1250.50" y2="1135" stroke="#14182c" stroke-opacity="0.4" stroke-width="1.5"/>
<line x1="1361.90" y1="113.5" x2="1361.90" y2="1135" stroke="#14182c" stroke-opacity="0.4" stroke-width="1.5"/>
<line x1="1472.60" y1="113.5" x2="1472.60" y2="1135" stroke="#14182c" stroke-opacity="0.4" stroke-width="1.5"/>
<line x1="57.0" y1="1135" x2="57.0" y2="1140" stroke="#c4c4c4" stroke-width="0.9"/>
<line x1="88.8" y1="1135" x2="88.8" y2="1140" stroke="#c4c4c4" stroke-width="0.9"/>
<line x1="120.7" y1="1135" x2="120.7" y2="1140" stroke="#c4c4c4" stroke-width="0.9"/>
<line x1="152.5" y1="1135" x2="152.5" y2="1140" stroke="#c4c4c4" stroke-width="0.9"/>
<line x1="184.3" y1="1135" x2="184.3" y2="1140" stroke="#c4c4c4" stroke-width="0.9"/>
<line x1="216.1" y1="1135" x2="216.1" y2="1140" stroke="#c4c4c4" stroke-width="0.9"/>
<line x1="248.0" y1="1135" x2="248.0" y2="1140" stroke="#c4c4c4" stroke-width="0.9"/>
<line x1="279.8" y1="1135" x2="279.8" y2="1140" stroke="#c4c4c4" stroke-width="0.9"/>
<line x1="311.6" y1="1135" x2="311.6" y2="1140" stroke="#c4c4c4" stroke-width="0.9"/>
<line x1="343.4" y1="1135" x2="343.4" y2="1140" stroke="#c4c4c4" stroke-width="0.9"/>
<line x1="375.3" y1="1135" x2="375.3" y2="1140" stroke="#c4c4c4" stroke-width="0.9"/>
<line x1="407.1" y1="1135" x2="407.1" y2="1140" stroke="#c4c4c4" stroke-width="0.9"/>
<line x1="438.9" y1="1135" x2="438.9" y2="1140" stroke="#c4c4c4" stroke-width="0.9"/>
<line x1="470.7" y1="1135" x2="470.7" y2="1140" stroke="#c4c4c4" stroke-width="0.9"/>
<line x1="502.6" y1="1135" x2="502.6" y2="1140" stroke="#c4c4c4" stroke-width="0.9"/>
<line x1="534.4" y1="1135" x2="534.4" y2="1140" stroke="#c4c4c4" stroke-width="0.9"/>
<line x1="566.2" y1="1135" x2="566.2" y2="1140" stroke="#c4c4c4" stroke-width="0.9"/>
<line x1="598.0" y1="1135" x2="598.0" y2="1140" stroke="#c4c4c4" stroke-width="0.9"/>
<line x1="629.9" y1="1135" x2="629.9" y2="1140" stroke="#c4c4c4" stroke-width="0.9"/>
<line x1="661.7" y1="1135" x2="661.7" y2="1140" stroke="#c4c4c4" stroke-width="0.9"/>
<line x1="693.5" y1="1135" x2="693.5" y2="1140" stroke="#c4c4c4" stroke-width="0.9"/>
<line x1="725.3" y1="1135" x2="725.3" y2="1140" stroke="#c4c4c4" stroke-width="0.9"/>
<line x1="757.2" y1="1135" x2="757.2" y2="1140" stroke="#c4c4c4" stroke-width="0.9"/>
<line x1="789.0" y1="1135" x2="789.0" y2="1140" stroke="#c4c4c4" stroke-width="0.9"/>
<line x1="820.8" y1="1135" x2="820.8" y2="1140" stroke="#c4c4c4" stroke-width="0.9"/>
<line x1="852.7" y1="1135" x2="852.7" y2="1140" stroke="#c4c4c4" stroke-width="0.9"/>
<line x1="884.5" y1="1135" x2="884.5" y2="1140" stroke="#c4c4c4" stroke-width="0.9"/>
<line x1="916.3" y1="1135" x2="916.3" y2="1140" stroke="#c4c4c4" stroke-width="0.9"/>
<line x1="948.1" y1="1135" x2="948.1" y2="1140" stroke="#c4c4c4" stroke-width="0.9"/>
<line x1="980.0" y1="1135" x2="980.0" y2="1140" stroke="#c4c4c4" stroke-width="0.9"/>
<line x1="1011.8" y1="1135" x2="1011.8" y2="1140" stroke="#c4c4c4" stroke-width="0.9"/>
<line x1="1043.6" y1="1135" x2="1043.6" y2="1140" stroke="#c4c4c4" stroke-width="0.9"/>
<line x1="1075.4" y1="1135" x2="1075.4" y2="1140" stroke="#c4c4c4" stroke-width="0.9"/>
<line x1="1107.3" y1="1135" x2="1107.3" y2="1140" stroke="#c4c4c4" stroke-width="0.9"/>
<line x1="1139.1" y1="1135" x2="1139.1" y2="1140" stroke="#c4c4c4" stroke-width="0.9"/>
<line x1="1170.9" y1="1135" x2="1170.9" y2="1140" stroke="#c4c4c4" stroke-width="0.9"/>
<line x1="1202.7" y1="1135" x2="1202.7" y2="1140" stroke="#c4c4c4" stroke-width="0.9"/>
<line x1="1234.6" y1="1135" x2="1234.6" y2="1140" stroke="#c4c4c4" stroke-width="0.9"/>
<line x1="1266.4" y1="1135" x2="1266.4" y2="1140" stroke="#c4c4c4" stroke-width="0.9"/>
<line x1="1298.2" y1="1135" x2="1298.2" y2="1140" stroke="#c4c4c4" stroke-width="0.9"/>
<line x1="1330.0" y1="1135" x2="1330.0" y2="1140" stroke="#c4c4c4" stroke-width="0.9"/>
<line x1="1361.9" y1="1135" x2="1361.9" y2="1140" stroke="#c4c4c4" stroke-width="0.9"/>
<line x1="1393.7" y1="1135" x2="1393.7" y2="1140" stroke="#c4c4c4" stroke-width="0.9"/>
<line x1="1425.5" y1="1135" x2="1425.5" y2="1140" stroke="#c4c4c4" stroke-width="0.9"/>
<line x1="1457.3" y1="1135" x2="1457.3" y2="1140" stroke="#c4c4c4" stroke-width="0.9"/>
<line x1="1489.2" y1="1135" x2="1489.2" y2="1140" stroke="#c4c4c4" stroke-width="0.9"/>
<line x1="1521.0" y1="1135" x2="1521.0" y2="1140" stroke="#c4c4c4" stroke-width="0.9"/>
<text x="43" y="1140.8" font-size="11.6" text-anchor="end" fill="#111" stroke="#111" stroke-width="0.3">0%</text>
<text x="43" y="1089.7" font-size="11.6" text-anchor="end" fill="#111" stroke="#111" stroke-width="0.3">5%</text>
<text x="43" y="1038.6" font-size="11.6" text-anchor="end" fill="#111" stroke="#111" stroke-width="0.3">10%</text>
<text x="43" y="987.5" font-size="11.6" text-anchor="end" fill="#111" stroke="#111" stroke-width="0.3">15%</text>
<text x="43" y="936.4" font-size="11.6" text-anchor="end" fill="#111" stroke="#111" stroke-width="0.3">20%</text>
<text x="43" y="885.3" font-size="11.6" text-anchor="end" fill="#111" stroke="#111" stroke-width="0.3">25%</text>
<text x="43" y="834.2" font-size="11.6" text-anchor="end" fill="#111" stroke="#111" stroke-width="0.3">30%</text>
<text x="43" y="783.1" font-size="11.6" text-anchor="end" fill="#111" stroke="#111" stroke-width="0.3">35%</text>
<text x="43" y="732.0" font-size="11.6" text-anchor="end" fill="#111" stroke="#111" stroke-width="0.3">40%</text>
<text x="43" y="680.9" font-size="11.6" text-anchor="end" fill="#111" stroke="#111" stroke-width="0.3">45%</text>
<text x="43" y="629.8" font-size="11.6" text-anchor="end" fill="#111" stroke="#111" stroke-width="0.3">50%</text>
<text x="43" y="578.7" font-size="11.6" text-anchor="end" fill="#111" stroke="#111" stroke-width="0.3">55%</text>
<text x="43" y="527.6" font-size="11.6" text-anchor="end" fill="#111" stroke="#111" stroke-width="0.3">60%</text>
<text x="43" y="476.5" font-size="11.6" text-anchor="end" fill="#111" stroke="#111" stroke-width="0.3">65%</text>
<text x="43" y="425.4" font-size="11.6" text-anchor="end" fill="#111" stroke="#111" stroke-width="0.3">70%</text>
<text x="43" y="374.3" font-size="11.6" text-anchor="end" fill="#111" stroke="#111" stroke-width="0.3">75%</text>
<text x="43" y="323.2" font-size="11.6" text-anchor="end" fill="#111" stroke="#111" stroke-width="0.3">80%</text>
<text x="43" y="272.1" font-size="11.6" text-anchor="end" fill="#111" stroke="#111" stroke-width="0.3">85%</text>
<text x="43" y="221.0" font-size="11.6" text-anchor="end" fill="#111" stroke="#111" stroke-width="0.3">90%</text>
<text x="43" y="169.9" font-size="11.6" text-anchor="end" fill="#111" stroke="#111" stroke-width="0.3">95%</text>
<text x="43" y="118.8" font-size="11.6" text-anchor="end" fill="#111" stroke="#111" stroke-width="0.3">100%</text>
<text transform="translate(60.6,1155.0) rotate(-45)" font-size="11.5" text-anchor="end" fill="#111" stroke="#111" stroke-width="0.2" textLength="47.5" lengthAdjust="spacingAndGlyphs">10/31/16</text>
<text transform="translate(92.4,1155.0) rotate(-45)" font-size="11.5" text-anchor="end" fill="#111" stroke="#111" stroke-width="0.2" textLength="47.5" lengthAdjust="spacingAndGlyphs">11/02/16</text>
<text transform="translate(124.3,1155.0) rotate(-45)" font-size="11.5" text-anchor="end" fill="#111" stroke="#111" stroke-width="0.2" textLength="47.5" lengthAdjust="spacingAndGlyphs">11/04/16</text>
<text transform="translate(156.1,1155.0) rotate(-45)" font-size="11.5" text-anchor="end" fill="#111" stroke="#111" stroke-width="0.2" textLength="47.5" lengthAdjust="spacingAndGlyphs">11/06/16</text>
<text transform="translate(187.9,1155.0) rotate(-45)" font-size="11.5" text-anchor="end" fill="#111" stroke="#111" stroke-width="0.2" textLength="47.5" lengthAdjust="spacingAndGlyphs">11/08/16</text>
<text transform="translate(219.7,1155.0) rotate(-45)" font-size="11.5" text-anchor="end" fill="#111" stroke="#111" stroke-width="0.2" textLength="47.5" lengthAdjust="spacingAndGlyphs">11/10/16</text>
<text transform="translate(251.6,1155.0) rotate(-45)" font-size="11.5" text-anchor="end" fill="#111" stroke="#111" stroke-width="0.2" textLength="47.5" lengthAdjust="spacingAndGlyphs">11/12/16</text>
<text transform="translate(283.4,1155.0) rotate(-45)" font-size="11.5" text-anchor="end" fill="#111" stroke="#111" stroke-width="0.2" textLength="47.5" lengthAdjust="spacingAndGlyphs">11/14/16</text>
<text transform="translate(315.2,1155.0) rotate(-45)" font-size="11.5" text-anchor="end" fill="#111" stroke="#111" stroke-width="0.2" textLength="47.5" lengthAdjust="spacingAndGlyphs">11/16/16</text>
<text transform="translate(347.0,1155.0) rotate(-45)" font-size="11.5" text-anchor="end" fill="#111" stroke="#111" stroke-width="0.2" textLength="47.5" lengthAdjust="spacingAndGlyphs">11/18/16</text>
<text transform="translate(378.9,1155.0) rotate(-45)" font-size="11.5" text-anchor="end" fill="#111" stroke="#111" stroke-width="0.2" textLength="47.5" lengthAdjust="spacingAndGlyphs">11/20/16</text>
<text transform="translate(410.7,1155.0) rotate(-45)" font-size="11.5" text-anchor="end" fill="#111" stroke="#111" stroke-width="0.2" textLength="47.5" lengthAdjust="spacingAndGlyphs">11/22/16</text>
<text transform="translate(442.5,1155.0) rotate(-45)" font-size="11.5" text-anchor="end" fill="#111" stroke="#111" stroke-width="0.2" textLength="47.5" lengthAdjust="spacingAndGlyphs">11/24/16</text>
<text transform="translate(474.3,1155.0) rotate(-45)" font-size="11.5" text-anchor="end" fill="#111" stroke="#111" stroke-width="0.2" textLength="47.5" lengthAdjust="spacingAndGlyphs">11/26/16</text>
<text transform="translate(506.2,1155.0) rotate(-45)" font-size="11.5" text-anchor="end" fill="#111" stroke="#111" stroke-width="0.2" textLength="47.5" lengthAdjust="spacingAndGlyphs">11/28/16</text>
<text transform="translate(538.0,1155.0) rotate(-45)" font-size="11.5" text-anchor="end" fill="#111" stroke="#111" stroke-width="0.2" textLength="47.5" lengthAdjust="spacingAndGlyphs">11/30/16</text>
<text transform="translate(569.8,1155.0) rotate(-45)" font-size="11.5" text-anchor="end" fill="#111" stroke="#111" stroke-width="0.2" textLength="47.5" lengthAdjust="spacingAndGlyphs">12/02/16</text>
<text transform="translate(601.6,1155.0) rotate(-45)" font-size="11.5" text-anchor="end" fill="#111" stroke="#111" stroke-width="0.2" textLength="47.5" lengthAdjust="spacingAndGlyphs">12/04/16</text>
<text transform="translate(633.5,1155.0) rotate(-45)" font-size="11.5" text-anchor="end" fill="#111" stroke="#111" stroke-width="0.2" textLength="47.5" lengthAdjust="spacingAndGlyphs">12/06/16</text>
<text transform="translate(665.3,1155.0) rotate(-45)" font-size="11.5" text-anchor="end" fill="#111" stroke="#111" stroke-width="0.2" textLength="47.5" lengthAdjust="spacingAndGlyphs">12/08/16</text>
<text transform="translate(697.1,1155.0) rotate(-45)" font-size="11.5" text-anchor="end" fill="#111" stroke="#111" stroke-width="0.2" textLength="47.5" lengthAdjust="spacingAndGlyphs">12/10/16</text>
<text transform="translate(728.9,1155.0) rotate(-45)" font-size="11.5" text-anchor="end" fill="#111" stroke="#111" stroke-width="0.2" textLength="47.5" lengthAdjust="spacingAndGlyphs">12/12/16</text>
<text transform="translate(760.8,1155.0) rotate(-45)" font-size="11.5" text-anchor="end" fill="#111" stroke="#111" stroke-width="0.2" textLength="47.5" lengthAdjust="spacingAndGlyphs">12/14/16</text>
<text transform="translate(792.6,1155.0) rotate(-45)" font-size="11.5" text-anchor="end" fill="#111" stroke="#111" stroke-width="0.2" textLength="47.5" lengthAdjust="spacingAndGlyphs">12/16/16</text>
<text transform="translate(824.4,1155.0) rotate(-45)" font-size="11.5" text-anchor="end" fill="#111" stroke="#111" stroke-width="0.2" textLength="47.5" lengthAdjust="spacingAndGlyphs">12/18/16</text>
<text transform="translate(856.3,1155.0) rotate(-45)" font-size="11.5" text-anchor="end" fill="#111" stroke="#111" stroke-width="0.2" textLength="47.5" lengthAdjust="spacingAndGlyphs">12/20/16</text>
<text transform="translate(888.1,1155.0) rotate(-45)" font-size="11.5" text-anchor="end" fill="#111" stroke="#111" stroke-width="0.2" textLength="47.5" lengthAdjust="spacingAndGlyphs">12/22/16</text>
<text transform="translate(919.9,1155.0) rotate(-45)" font-size="11.5" text-anchor="end" fill="#111" stroke="#111" stroke-width="0.2" textLength="47.5" lengthAdjust="spacingAndGlyphs">12/24/16</text>
<text transform="translate(951.7,1155.0) rotate(-45)" font-size="11.5" text-anchor="end" fill="#111" stroke="#111" stroke-width="0.2" textLength="47.5" lengthAdjust="spacingAndGlyphs">12/26/16</text>
<text transform="translate(983.6,1155.0) rotate(-45)" font-size="11.5" text-anchor="end" fill="#111" stroke="#111" stroke-width="0.2" textLength="47.5" lengthAdjust="spacingAndGlyphs">12/28/16</text>
<text transform="translate(1015.4,1155.0) rotate(-45)" font-size="11.5" text-anchor="end" fill="#111" stroke="#111" stroke-width="0.2" textLength="47.5" lengthAdjust="spacingAndGlyphs">12/30/16</text>
<text transform="translate(1047.2,1155.0) rotate(-45)" font-size="11.5" text-anchor="end" fill="#111" stroke="#111" stroke-width="0.2" textLength="47.5" lengthAdjust="spacingAndGlyphs">01/01/17</text>
<text transform="translate(1079.0,1155.0) rotate(-45)" font-size="11.5" text-anchor="end" fill="#111" stroke="#111" stroke-width="0.2" textLength="47.5" lengthAdjust="spacingAndGlyphs">01/03/17</text>
<text transform="translate(1110.9,1155.0) rotate(-45)" font-size="11.5" text-anchor="end" fill="#111" stroke="#111" stroke-width="0.2" textLength="47.5" lengthAdjust="spacingAndGlyphs">01/05/17</text>
<text transform="translate(1142.7,1155.0) rotate(-45)" font-size="11.5" text-anchor="end" fill="#111" stroke="#111" stroke-width="0.2" textLength="47.5" lengthAdjust="spacingAndGlyphs">01/07/17</text>
<text transform="translate(1174.5,1155.0) rotate(-45)" font-size="11.5" text-anchor="end" fill="#111" stroke="#111" stroke-width="0.2" textLength="47.5" lengthAdjust="spacingAndGlyphs">01/09/17</text>
<text transform="translate(1206.3,1155.0) rotate(-45)" font-size="11.5" text-anchor="end" fill="#111" stroke="#111" stroke-width="0.2" textLength="47.5" lengthAdjust="spacingAndGlyphs">01/11/17</text>
<text transform="translate(1238.2,1155.0) rotate(-45)" font-size="11.5" text-anchor="end" fill="#111" stroke="#111" stroke-width="0.2" textLength="47.5" lengthAdjust="spacingAndGlyphs">01/13/17</text>
<text transform="translate(1270.0,1155.0) rotate(-45)" font-size="11.5" text-anchor="end" fill="#111" stroke="#111" stroke-width="0.2" textLength="47.5" lengthAdjust="spacingAndGlyphs">01/15/17</text>
<text transform="translate(1301.8,1155.0) rotate(-45)" font-size="11.5" text-anchor="end" fill="#111" stroke="#111" stroke-width="0.2" textLength="47.5" lengthAdjust="spacingAndGlyphs">01/17/17</text>
<text transform="translate(1333.6,1155.0) rotate(-45)" font-size="11.5" text-anchor="end" fill="#111" stroke="#111" stroke-width="0.2" textLength="47.5" lengthAdjust="spacingAndGlyphs">01/19/17</text>
<text transform="translate(1365.5,1155.0) rotate(-45)" font-size="11.5" text-anchor="end" fill="#111" stroke="#111" stroke-width="0.2" textLength="47.5" lengthAdjust="spacingAndGlyphs">01/21/17</text>
<text transform="translate(1397.3,1155.0) rotate(-45)" font-size="11.5" text-anchor="end" fill="#111" stroke="#111" stroke-width="0.2" textLength="47.5" lengthAdjust="spacingAndGlyphs">01/23/17</text>
<text transform="translate(1429.1,1155.0) rotate(-45)" font-size="11.5" text-anchor="end" fill="#111" stroke="#111" stroke-width="0.2" textLength="47.5" lengthAdjust="spacingAndGlyphs">01/25/17</text>
<text transform="translate(1460.9,1155.0) rotate(-45)" font-size="11.5" text-anchor="end" fill="#111" stroke="#111" stroke-width="0.2" textLength="47.5" lengthAdjust="spacingAndGlyphs">01/27/17</text>
<text transform="translate(1492.8,1155.0) rotate(-45)" font-size="11.5" text-anchor="end" fill="#111" stroke="#111" stroke-width="0.2" textLength="47.5" lengthAdjust="spacingAndGlyphs">01/29/17</text>
<text transform="translate(1524.6,1155.0) rotate(-45)" font-size="11.5" text-anchor="end" fill="#111" stroke="#111" stroke-width="0.2" textLength="47.5" lengthAdjust="spacingAndGlyphs">01/31/17</text>
<text x="313.0" y="44.0" font-size="20" fill="#111" stroke="#111" stroke-width="0.45" textLength="68.3" lengthAdjust="spacingAndGlyphs">Portion</text>
<text x="391.7" y="44.0" font-size="20" fill="#111" stroke="#111" stroke-width="0.45" textLength="15.6" lengthAdjust="spacingAndGlyphs">of</text>
<text x="413.8" y="44.0" font-size="20" fill="#111" stroke="#111" stroke-width="0.45" textLength="45.4" lengthAdjust="spacingAndGlyphs">Total</text>
<text x="467.0" y="44.0" font-size="20" fill="#111" stroke="#111" stroke-width="0.45" textLength="68.8" lengthAdjust="spacingAndGlyphs">Official</text>
<text x="542.9" y="44.0" font-size="20" fill="#111" stroke="#111" stroke-width="0.45" textLength="42.8" lengthAdjust="spacingAndGlyphs">QHP</text>
<text x="593.5" y="44.0" font-size="20" fill="#111" stroke="#111" stroke-width="0.45" textLength="98.7" lengthAdjust="spacingAndGlyphs">Selections</text>
<text x="699.5" y="44.0" font-size="20" fill="#111" stroke="#111" stroke-width="0.45" textLength="20.0" lengthAdjust="spacingAndGlyphs">by</text>
<text x="727.3" y="44.0" font-size="20" fill="#111" stroke="#111" stroke-width="0.45" textLength="48.5" lengthAdjust="spacingAndGlyphs">State</text>
<text x="783.7" y="44.0" font-size="20" fill="#111" stroke="#111" stroke-width="0.45" textLength="108.6" lengthAdjust="spacingAndGlyphs">throughout</text>
<text x="899.0" y="44.0" font-size="20" fill="#111" stroke="#111" stroke-width="0.45" textLength="29.8" lengthAdjust="spacingAndGlyphs">the</text>
<text x="936.6" y="44.0" font-size="20" fill="#111" stroke="#111" stroke-width="0.45" textLength="48.1" lengthAdjust="spacingAndGlyphs">2017</text>
<text x="993.5" y="44.0" font-size="20" fill="#111" stroke="#111" stroke-width="0.45" textLength="52.8" lengthAdjust="spacingAndGlyphs">Open</text>
<text x="1054.2" y="44.0" font-size="20" fill="#111" stroke="#111" stroke-width="0.45" textLength="103.8" lengthAdjust="spacingAndGlyphs">Enrollment</text>
<text x="1166.5" y="44.0" font-size="20" fill="#111" stroke="#111" stroke-width="0.45" textLength="60.5" lengthAdjust="spacingAndGlyphs">Period</text>
<text x="196.1" y="68.6" font-size="20" fill="#111" stroke="#111" stroke-width="0.45" textLength="43.1" lengthAdjust="spacingAndGlyphs">Data</text>
<text x="247.0" y="68.6" font-size="20" fill="#111" stroke="#111" stroke-width="0.45" textLength="26.5" lengthAdjust="spacingAndGlyphs">via</text>
<text x="280.8" y="68.6" font-size="20" fill="#111" stroke="#111" stroke-width="0.45" textLength="44.1" lengthAdjust="spacingAndGlyphs">CMS</text>
<text x="331.9" y="68.6" font-size="20" fill="#111" stroke="#111" stroke-width="0.45" textLength="48.6" lengthAdjust="spacingAndGlyphs">2017</text>
<text x="387.8" y="68.6" font-size="20" fill="#111" stroke="#111" stroke-width="0.45" textLength="120.0" lengthAdjust="spacingAndGlyphs">Marketplace</text>
<text x="515.8" y="68.6" font-size="20" fill="#111" stroke="#111" stroke-width="0.45" textLength="53.0" lengthAdjust="spacingAndGlyphs">Open</text>
<text x="576.6" y="68.6" font-size="20" fill="#111" stroke="#111" stroke-width="0.45" textLength="105.2" lengthAdjust="spacingAndGlyphs">Enrollment</text>
<text x="689.1" y="68.6" font-size="20" fill="#111" stroke="#111" stroke-width="0.45" textLength="60.3" lengthAdjust="spacingAndGlyphs">Period</text>
<text x="757.1" y="68.6" font-size="20" fill="#111" stroke="#111" stroke-width="0.45" textLength="57.2" lengthAdjust="spacingAndGlyphs">Public</text>
<text x="822.1" y="68.6" font-size="20" fill="#111" stroke="#111" stroke-width="0.45" textLength="32.4" lengthAdjust="spacingAndGlyphs">Use</text>
<text x="862.3" y="68.6" font-size="20" fill="#111" stroke="#111" stroke-width="0.45" textLength="45.2" lengthAdjust="spacingAndGlyphs">Files</text>
<text x="919.6" y="68.6" font-size="20" fill="#111" stroke="#111" stroke-width="0.45" textLength="8.0" lengthAdjust="spacingAndGlyphs">•</text>
<text x="941.8" y="68.6" font-size="20" fill="#111" stroke="#111" stroke-width="0.45" textLength="61.1" lengthAdjust="spacingAndGlyphs">Graph</text>
<text x="1009.4" y="68.6" font-size="20" fill="#111" stroke="#111" stroke-width="0.45" textLength="20.7" lengthAdjust="spacingAndGlyphs">by</text>
<text x="1037.4" y="68.6" font-size="20" fill="#111" stroke="#111" stroke-width="0.45" textLength="72.0" lengthAdjust="spacingAndGlyphs">Charles</text>
<text x="1117.1" y="68.6" font-size="20" fill="#111" stroke="#111" stroke-width="0.45" textLength="48.6" lengthAdjust="spacingAndGlyphs">Gaba</text>
<text x="1176.9" y="68.6" font-size="20" fill="#111" stroke="#111" stroke-width="0.45" text-anchor="middle">/</text>
<text x="1187.3" y="68.6" font-size="20" fill="#111" stroke="#111" stroke-width="0.45" textLength="157.1" lengthAdjust="spacingAndGlyphs">ACASignups.net</text>
<text x="596.7" y="152.0" font-size="15.4" fill="#0606DA" stroke="#0606DA" stroke-width="0.45" textLength="93.9" lengthAdjust="spacingAndGlyphs">Washington</text>
<text x="917.6" y="184.3" font-size="16.5" fill="#0c0c14" stroke="#0c0c14" stroke-width="0.45" textLength="60.7" lengthAdjust="spacingAndGlyphs">Virginia</text>
<text x="958.4" y="268.0" font-size="20" fill="#0c0c14" stroke="#0c0c14" stroke-width="0.45" textLength="53.6" lengthAdjust="spacingAndGlyphs">Texas</text>
<text x="996.9" y="378.8" font-size="17.9" fill="#0c0c14" stroke="#0c0c14" stroke-width="0.45" textLength="113.3" lengthAdjust="spacingAndGlyphs">Pennsylvania</text>
<text x="1007.8" y="467.9" font-size="18.5" fill="#0c0c14" stroke="#0c0c14" stroke-width="0.45" textLength="128.7" lengthAdjust="spacingAndGlyphs">North Carolina</text>
<text x="1119.9" y="614.9" font-size="17.9" fill="#0c0c14" stroke="#0c0c14" stroke-width="0.45" textLength="80.9" lengthAdjust="spacingAndGlyphs">Michigan</text>
<text x="1189.2" y="734.9" font-size="19.3" fill="#0c0c14" stroke="#0c0c14" stroke-width="0.45" textLength="64.1" lengthAdjust="spacingAndGlyphs">Illinois</text>
<text x="1060.0" y="781.7" font-size="19.6" fill="#0c0c14" stroke="#0c0c14" stroke-width="0.45" textLength="78.3" lengthAdjust="spacingAndGlyphs">Georgia</text>
<text x="775.9" y="835.2" font-size="20" fill="#0c0c14" stroke="#0c0c14" stroke-width="0.45" textLength="68.8" lengthAdjust="spacingAndGlyphs">Florida</text>
<text x="441.4" y="995.0" font-size="20" fill="#0606DA" stroke="#0606DA" stroke-width="0.45" textLength="94.8" lengthAdjust="spacingAndGlyphs">California</text>
<text x="185.3" y="470.2" font-size="19" fill="#0606DA" stroke="#0606DA" stroke-width="0.45" textLength="91.5" lengthAdjust="spacingAndGlyphs">Maryland</text>
<text x="359.8" y="375.0" font-size="19" fill="#0606DA" stroke="#0606DA" stroke-width="0.45" textLength="84.2" lengthAdjust="spacingAndGlyphs">New York</text>
<text x="14.6" y="243.8" font-size="16.4" fill="#0606DA" stroke="#0606DA" stroke-width="0.45" textLength="102.3" lengthAdjust="spacingAndGlyphs">Rhode Island</text>
<text x="7.2" y="401.9" font-size="15.7" fill="#0606DA" stroke="#0606DA" stroke-width="0.45" textLength="81.8" lengthAdjust="spacingAndGlyphs">Minnesota</text>
<text x="471.0" y="505.0" font-size="18.5" fill="#0606DA" stroke="#0606DA" stroke-width="0.45" textLength="140.6" lengthAdjust="spacingAndGlyphs" transform="rotate(19 472.0 505.0)">Massachusetts</text>
<text x="184.3" y="607.9" font-size="18.5" fill="#0606DA" stroke="#0606DA" stroke-width="0.45" textLength="50.4" lengthAdjust="spacingAndGlyphs" transform="rotate(-41 185.3 607.9)">Idaho</text>
<line x1="86.2" y1="251.4" x2="162" y2="271.5" stroke="#9a9aa6" stroke-width="1.7"/>
<line x1="71" y1="409.5" x2="154.2" y2="421" stroke="#9a9aa6" stroke-width="1.7"/>
</svg></body></html>
